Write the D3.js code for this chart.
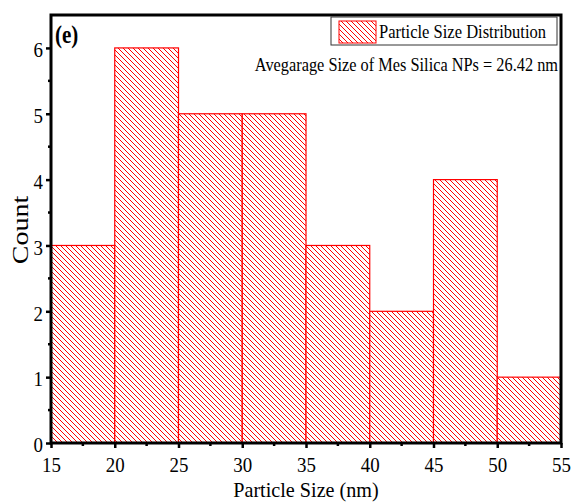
<!DOCTYPE html>
<html>
<head>
<meta charset="utf-8">
<script src="https://cdn.jsdelivr.net/npm/d3@7/dist/d3.min.js"></script>
<style>
  html, body { margin: 0; padding: 0; background: #fff; }
  svg { display: block; }
  svg text { font-family: "Liberation Serif", "Times New Roman", serif; fill: #000; }
</style>
</head>
<body>
<svg id="chart" width="571" height="502"></svg>
<script>
// Histogram bins (nm) and counts
const binStarts = [15, 20, 25, 30, 35, 40, 45, 50];
const binWidth = 5;
const counts = [3, 6, 5, 5, 3, 2, 4, 1];
const xTicks = [15, 20, 25, 30, 35, 40, 45, 50, 55];
const yTicks = [0, 1, 2, 3, 4, 5, 6];
const legendLabel = "Particle Size Distribution";
const noteText = "Avegarage Size of Mes Silica NPs = 26.42 nm";

const svg = d3.select("#chart");
const margin = { left: 51, right: 10, top: 15, bottom: 59 };
const W = 571, H = 502;
const plotW = W - margin.left - margin.right;
const plotH = H - margin.top - margin.bottom;
const SQ = 0.86; // narrow text look

const x = d3.scaleLinear().domain([15, 55]).range([margin.left, margin.left + plotW]);
const y = d3.scaleLinear().domain([0, 6.5]).range([margin.top + plotH, margin.top]);

// Place a narrowed text label at (px, py)
function label(parent, px, py, txt, size, opts = {}) {
  const sx = opts.sx || SQ;
  const rot = opts.rotate ? ` rotate(${opts.rotate})` : "";
  const scale = opts.rotate ? `scale(1,${sx})` : `scale(${sx},1)`;
  return parent.append("text")
    .attr("transform", `translate(${px},${py})${rot} ${scale}`)
    .attr("text-anchor", opts.anchor || "start")
    .attr("font-weight", opts.bold ? "bold" : null)
    .style("font-size", size + "px")
    .text(txt);
}

// Diagonal hatch fill
const defs = svg.append("defs");
const pat = defs.append("pattern")
  .attr("id", "hatch")
  .attr("patternUnits", "userSpaceOnUse")
  .attr("width", 5).attr("height", 5);
pat.append("rect").attr("width", 5).attr("height", 5).attr("fill", "#fff");
pat.append("path")
  .attr("d", "M0,0 L5,5 M-1,4 L1,6 M4,-1 L6,1")
  .attr("stroke", "#ff0000")
  .attr("stroke-width", 1)
  .attr("shape-rendering", "crispEdges");

// Bars
svg.append("g").selectAll("rect")
  .data(binStarts.map((s, i) => ({ s, c: counts[i] })))
  .join("rect")
  .attr("x", d => x(d.s))
  .attr("y", d => y(d.c))
  .attr("width", d => x(d.s + binWidth) - x(d.s))
  .attr("height", d => y(0) - y(d.c))
  .attr("fill", "url(#hatch)")
  .attr("stroke", "#ff0000")
  .attr("stroke-width", 1.2);

// Frame
svg.append("rect")
  .attr("x", margin.left).attr("y", margin.top)
  .attr("width", plotW).attr("height", plotH)
  .attr("fill", "none").attr("stroke", "#000").attr("stroke-width", 3);

// Axes
const tickFont = 22;
const xAxis = d3.axisBottom(x).tickValues(xTicks).tickFormat(d3.format("d")).tickSize(5).tickPadding(8);
const gx = svg.append("g").attr("transform", `translate(0,${margin.top + plotH})`).call(xAxis);
gx.attr("font-family", null).attr("font-size", null);
gx.select(".domain").remove();
gx.selectAll(".tick line").attr("stroke-width", 2.5);
gx.selectAll("text").style("font-size", tickFont + "px").attr("transform", `scale(${SQ},1)`);

const xMinor = d3.range(17.5, 55, 5);
svg.append("g").selectAll("line").data(xMinor).join("line")
  .attr("x1", d => x(d)).attr("x2", d => x(d))
  .attr("y1", margin.top + plotH).attr("y2", margin.top + plotH + 3)
  .attr("stroke", "#000").attr("stroke-width", 2.5);

const yAxis = d3.axisLeft(y).tickValues(yTicks).tickFormat(d3.format("d")).tickSize(5).tickPadding(3);
const gy = svg.append("g").attr("transform", `translate(${margin.left},0)`).call(yAxis);
gy.attr("font-family", null).attr("font-size", null);
gy.select(".domain").remove();
gy.selectAll(".tick line").attr("stroke-width", 2.5);
gy.selectAll("text")
  .style("font-size", tickFont + "px")
  .attr("x", -8 / SQ)
  .attr("dy", "0.4em")
  .attr("transform", `scale(${SQ},1)`);

const yMinor = d3.range(0.5, 6.5, 1);
svg.append("g").selectAll("line").data(yMinor).join("line")
  .attr("x1", margin.left).attr("x2", margin.left - 3)
  .attr("y1", d => y(d)).attr("y2", d => y(d))
  .attr("stroke", "#000").attr("stroke-width", 2.5);

// Axis titles
label(svg, x(35), 497, "Particle Size (nm)", 21, { anchor: "middle", sx: 0.96 });
label(svg, 28, 230, "Count", 28, { anchor: "middle", rotate: -90 });

// Panel label
label(svg, 55, 43, "(e)", 24.5, { bold: true });

// Legend
const lg = svg.append("g");
lg.append("rect")
  .attr("x", 331).attr("y", 17).attr("width", 226).attr("height", 28)
  .attr("fill", "#fff").attr("stroke", "#333").attr("stroke-width", 1);
lg.append("rect")
  .attr("x", 339).attr("y", 21).attr("width", 37).attr("height", 22)
  .attr("fill", "url(#hatch)").attr("stroke", "#ff0000").attr("stroke-width", 1);
label(lg, 379, 38, legendLabel, 19, { sx: 0.87 });

// Annotation
label(svg, 558, 71, noteText, 19, { anchor: "end" });
</script>
</body>
</html>
